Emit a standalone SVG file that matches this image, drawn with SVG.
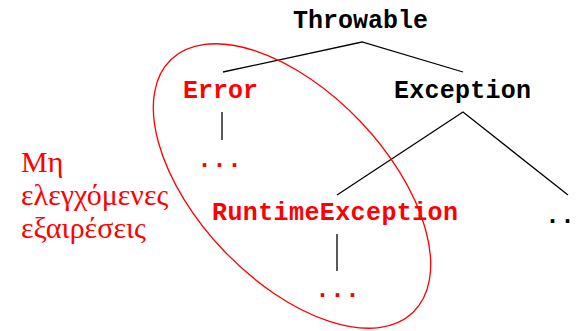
<svg xmlns="http://www.w3.org/2000/svg" width="577" height="331" viewBox="0 0 577 331">
<style>
.code{font-family:"Liberation Mono","Courier New",monospace;font-weight:bold;font-size:25px}
.red{fill:#ff0000}
.blk{fill:#000}
.greek{font-family:"Liberation Serif","Times New Roman",serif;font-size:30px;fill:#ff0000}
.ln{stroke:#000;stroke-width:1.3;fill:none}
</style>
<rect width="577" height="331" fill="#fff"/>
<g id="connectors">
<polyline class="ln" points="223,72 362,42 463,72"/>
<polyline class="ln" points="337,195 463,112 568,195"/>
<line class="ln" x1="222" y1="112" x2="222" y2="140"/>
<line class="ln" x1="337" y1="234" x2="337" y2="271" stroke-width="2"/>
</g>
<g id="throwable"><text class="code blk" x="293" y="28">Throwable</text></g>
<g id="error"><text class="code red" x="183" y="98">Error</text></g>
<g id="exception"><text class="code blk" x="394" y="98" textLength="137">Exception</text></g>
<g id="error-more"><text class="code red" x="197" y="167">...</text></g>
<g id="runtime"><text class="code red" x="212" y="220" textLength="246">RuntimeException</text></g>
<g id="exception-more"><text class="code blk" x="545" y="223">...</text></g>
<g id="runtime-more"><text class="code red" x="315" y="297">...</text></g>
<g id="unchecked">
<ellipse cx="292" cy="186" rx="175" ry="94" transform="rotate(46.3 292 186)" fill="none" stroke="#ff0000" stroke-width="1.3"/>
<text class="greek" x="21" y="172">Μη</text>
<text class="greek" x="21" y="205">ελεγχόμενες</text>
<text class="greek" x="21" y="238">εξαιρέσεις</text>
</g>
</svg>
